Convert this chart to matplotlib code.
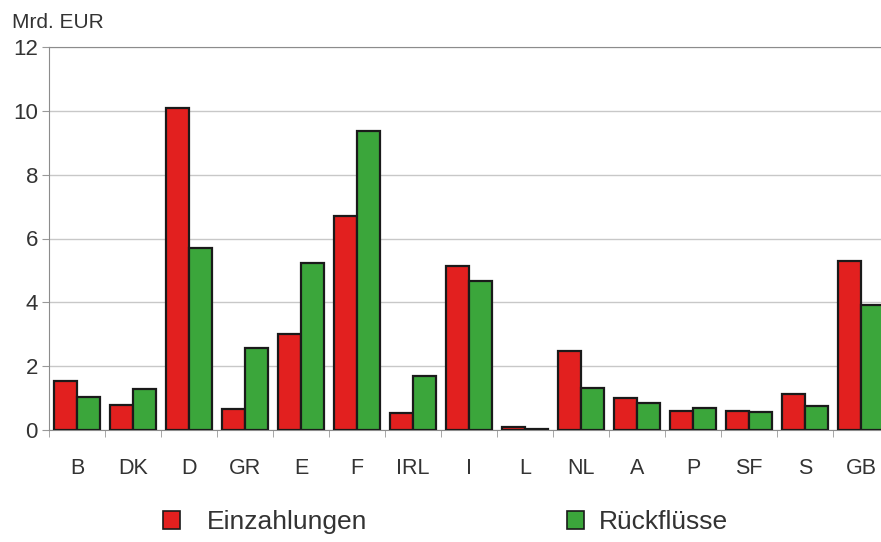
import matplotlib.pyplot as plt
import numpy as np
from matplotlib.patches import Patch

plt.rcParams['font.family'] = ['Liberation Sans', 'DejaVu Sans']

# Länder und Beträge in Mrd. EUR
laender = ['B', 'DK', 'D', 'GR', 'E', 'F', 'IRL', 'I', 'L', 'NL', 'A', 'P', 'SF', 'S', 'GB']
einzahlungen = [1.55, 0.78, 10.1, 0.66, 3.0, 6.7, 0.53, 5.14, 0.08, 2.48, 1.0, 0.6, 0.6, 1.13, 5.3]
rueckfluesse = [1.02, 1.28, 5.7, 2.57, 5.23, 9.37, 1.69, 4.67, 0.04, 1.33, 0.85, 0.68, 0.57, 0.75, 3.92]

rot = '#e2201f'
gruen = '#3ba63b'
text_farbe = '#333333'

fig = plt.figure(figsize=(8.81, 5.42), dpi=100)
ax = fig.add_axes([49 / 881, 1 - 430 / 542, 840 / 881, 383 / 542])

x = np.arange(len(laender))
b = 0.41
ax.bar(x - b / 2, einzahlungen, b, color=rot, edgecolor='#1a1a1a', linewidth=1.6, zorder=3)
ax.bar(x + b / 2, rueckfluesse, b, color=gruen, edgecolor='#1a1a1a', linewidth=1.6, zorder=3)

ax.set_xlim(-0.5, len(laender) - 0.5)
ax.set_ylim(0, 12)
ax.set_yticks([0, 2, 4, 6, 8, 10, 12])
ax.yaxis.grid(True, color='#c8c8c8', linewidth=1.0, zorder=0)

ax.set_xticks(x)
ax.set_xticklabels(laender)
ax.set_xticks(np.arange(len(laender) + 1) - 0.5, minor=True)
ax.tick_params(axis='x', which='major', length=0, pad=20, labelsize=15.5, labelcolor=text_farbe)
ax.tick_params(axis='x', which='minor', length=5, color='#999999', direction='out')
ax.tick_params(axis='y', length=5, color='#999999', labelsize=16, labelcolor=text_farbe, pad=3)

for s in ['left', 'bottom', 'top']:
    ax.spines[s].set_color('#8c8c8c')
ax.spines['right'].set_visible(False)

fig.text(12 / 881, 1 - 23 / 542, 'Mrd. EUR', fontsize=15, color=text_farbe, va='center')

# Legende: zwei einzelne Einträge unter der Grafik
eintraege = [(rot, 'Einzahlungen', 163, 1.0), (gruen, 'Rückflüsse', 567, 0.57)]
for farbe, name, xpos, abstand in eintraege:
    griff = Patch(facecolor=farbe, edgecolor='#1a1a1a', linewidth=1.2)
    fig.legend([griff], [name], loc='center left', bbox_to_anchor=(xpos / 881, 1 - 522 / 542),
               frameon=False, fontsize=19, borderpad=0, borderaxespad=0,
               handlelength=0.65, handleheight=0.65, handletextpad=abstand,
               labelcolor=text_farbe)

fig.savefig('out.png', dpi=100)
